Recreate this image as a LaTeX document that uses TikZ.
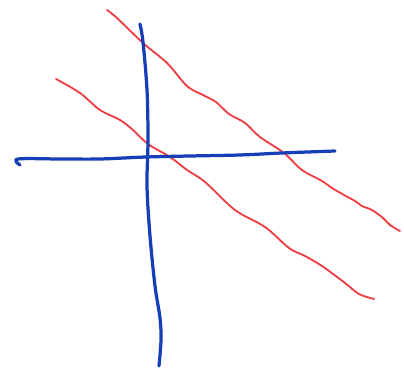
\documentclass[tikz,border=0pt]{standalone}
\usepackage{tikz}
\definecolor{cpen}{RGB}{ 22, 62,185}
\definecolor{cline}{RGB}{238, 62, 66}
\tikzset{
  axispen/.style={cpen,line width=2.3pt,line cap=round,line join=round},
  linepen/.style={cline,line width=1.3pt,line cap=round,line join=round}
}

\begin{document}
\begin{tikzpicture}[x=0.025cm,y=-0.025cm]

  % Explicit bounding box, in pixels of the sketch (y runs down).
  \path (0,0) rectangle (404,372);

  % ---------------- Red lines ----------------
  % upper line
  \draw[linepen] plot[smooth,tension=0.55] coordinates {
    (107,10) (117,18) (143,43) (167,63) (187,86) (203,95) (216,102)
    (229,114) (245,123) (260,137) (284,153) (302,170) (322,181)
    (332,188) (344,195) (355,201) (362,206) (372,210) (383,218)
    (390,225) (400,231)};
  % lower line
  \draw[linepen] plot[smooth,tension=0.55] coordinates {
    (56,79) (80,93) (100,110) (120,120) (133,130) (148,144) (170,157)
    (187,170) (205,182) (235,210) (265,227) (289,248)
    (305,256) (322,266) (345,283) (359,294) (374,299)};

  % ---------------- Blue axes ----------------
  % horizontal axis
  \draw[axispen] plot[smooth,tension=0.55] coordinates {
    (20,165) (18,159) (60,159) (100,159) (146,157) (190,156) (240,155)
    (282,153) (335,151)};
  % vertical axis
  \draw[axispen] plot[smooth,tension=0.55] coordinates {
    (140,24) (143,42) (147,90) (148,140) (147,186) (150,236)
    (155,286) (160,318) (161,340) (159,366)};

\end{tikzpicture}
\end{document}
